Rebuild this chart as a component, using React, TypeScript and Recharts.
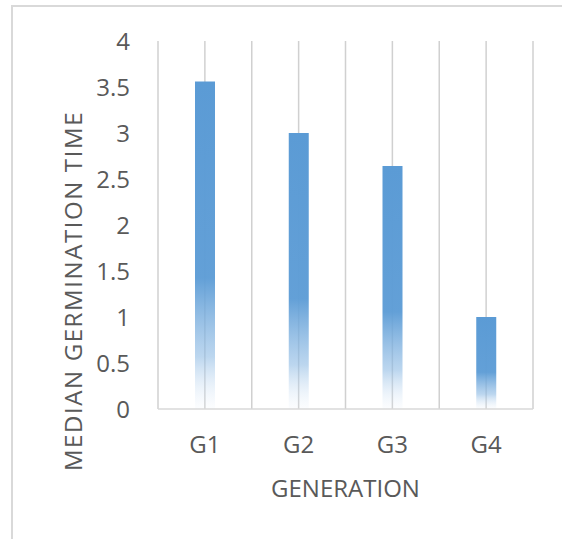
import React from 'react';
import { BarChart, Bar, XAxis, YAxis, CartesianGrid } from 'recharts';

const GENERATIONS = ['G1', 'G2', 'G3', 'G4'];
const MEDIAN_TIMES = [3.56, 3.0, 2.64, 1.0];
const Y_TICKS = [0, 0.5, 1, 1.5, 2, 2.5, 3, 3.5, 4];
// gridlines sit on band edges and band centres (two per category)
const GRID_STEPS = [0, 1, 2, 3, 4, 5, 6, 7, 8];

const TEXT = '#595959';
const FONT = '"Open Sans", sans-serif';

const data = GENERATIONS.map((g, i) => ({ name: g, value: MEDIAN_TIMES[i] }));

const App: React.FC = () => {
  return (
    <div style={{ position: 'absolute', left: 0, top: 0, width: 562, height: 539, background: '#fff' }}>
      <div
        style={{
          position: 'absolute',
          left: 11,
          top: 5,
          width: 551,
          height: 534,
          borderTop: '2px solid #d9d9d9',
          borderLeft: '2px solid #d9d9d9',
          boxSizing: 'border-box',
        }}
      />
      <BarChart
        width={562}
        height={539}
        data={data}
        margin={{ top: 41, right: 29, bottom: 0, left: 0 }}
        style={{ position: 'absolute', left: 0, top: 0, fontFamily: FONT }}
      >
        <defs>
          <linearGradient id="barFade" x1="0" y1="0" x2="0" y2="1">
            <stop offset="0%" stopColor="#5b9bd5" stopOpacity={1} />
            <stop offset="60%" stopColor="#5e9dd6" stopOpacity={0.97} />
            <stop offset="84%" stopColor="#8fbbe4" stopOpacity={0.6} />
            <stop offset="100%" stopColor="#e3edf8" stopOpacity={0.12} />
          </linearGradient>
        </defs>
        <CartesianGrid
          vertical
          horizontal={false}
          stroke="#d0d0d0"
          strokeWidth={1.5}
          verticalCoordinatesGenerator={({ offset }: any) =>
            GRID_STEPS.map((s) => offset.left + (offset.width * s) / (GRID_STEPS.length - 1))
          }
        />
        <XAxis
          dataKey="name"
          height={130}
          axisLine={{ stroke: '#d9d9d9', strokeWidth: 1.5 }}
          tickLine={false}
          tickSize={0}
          tickMargin={27}
          tick={{ fill: TEXT, fontSize: 24, fontFamily: FONT }}
          label={{
            value: 'GENERATION',
            content: (props: any) => {
              const vb = props.viewBox || {};
              return (
                <text
                  x={vb.x + vb.width / 2}
                  y={497}
                  textAnchor="middle"
                  fill={TEXT}
                  fontSize={24}
                  fontFamily={FONT}
                >
                  GENERATION
                </text>
              );
            },
          }}
        />
        <YAxis
          width={158}
          domain={[0, 4]}
          ticks={Y_TICKS}
          axisLine={false}
          tickLine={false}
          tickSize={0}
          tickMargin={28}
          tick={{ fill: TEXT, fontSize: 24, fontFamily: FONT }}
          label={{
            value: 'MEDIAN GERMINATION TIME',
            content: () => (
              <text
                x={82}
                y={291}
                transform="rotate(-90 82 291)"
                textAnchor="middle"
                fill={TEXT}
                fontSize={24}
                letterSpacing={1.6}
                fontFamily={FONT}
              >
                MEDIAN GERMINATION TIME
              </text>
            ),
          }}
        />
        <Bar dataKey="value" fill="url(#barFade)" barSize={20} isAnimationActive={false} />
      </BarChart>
    </div>
  );
};

export default App;
